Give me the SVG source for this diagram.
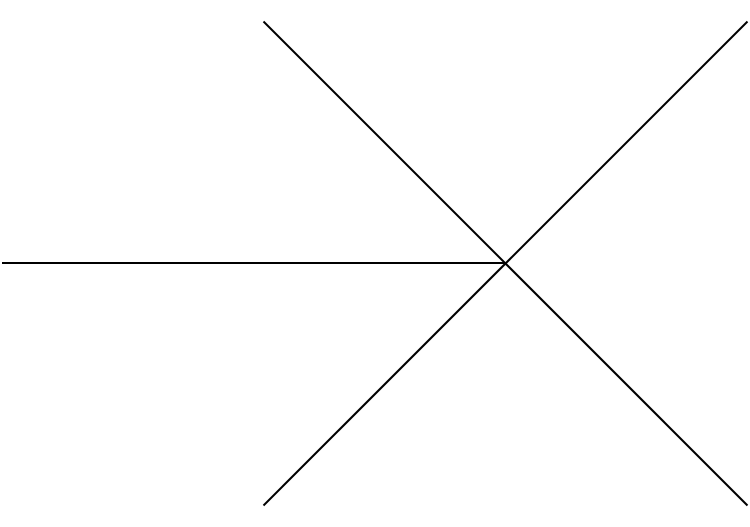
<svg xmlns="http://www.w3.org/2000/svg" width="750" height="527" viewBox="0 0 750 527">
<style>line{stroke:#000;stroke-width:2;fill:none}</style>
<rect width="750" height="527" fill="#fff"/>
<g id="connectors">
<line x1="2" y1="263" x2="505.5" y2="263"/>
<line x1="263.5" y1="21.5" x2="747.5" y2="505.5"/>
<line x1="747.5" y1="21.5" x2="263.5" y2="505.5"/>
</g>
</svg>
